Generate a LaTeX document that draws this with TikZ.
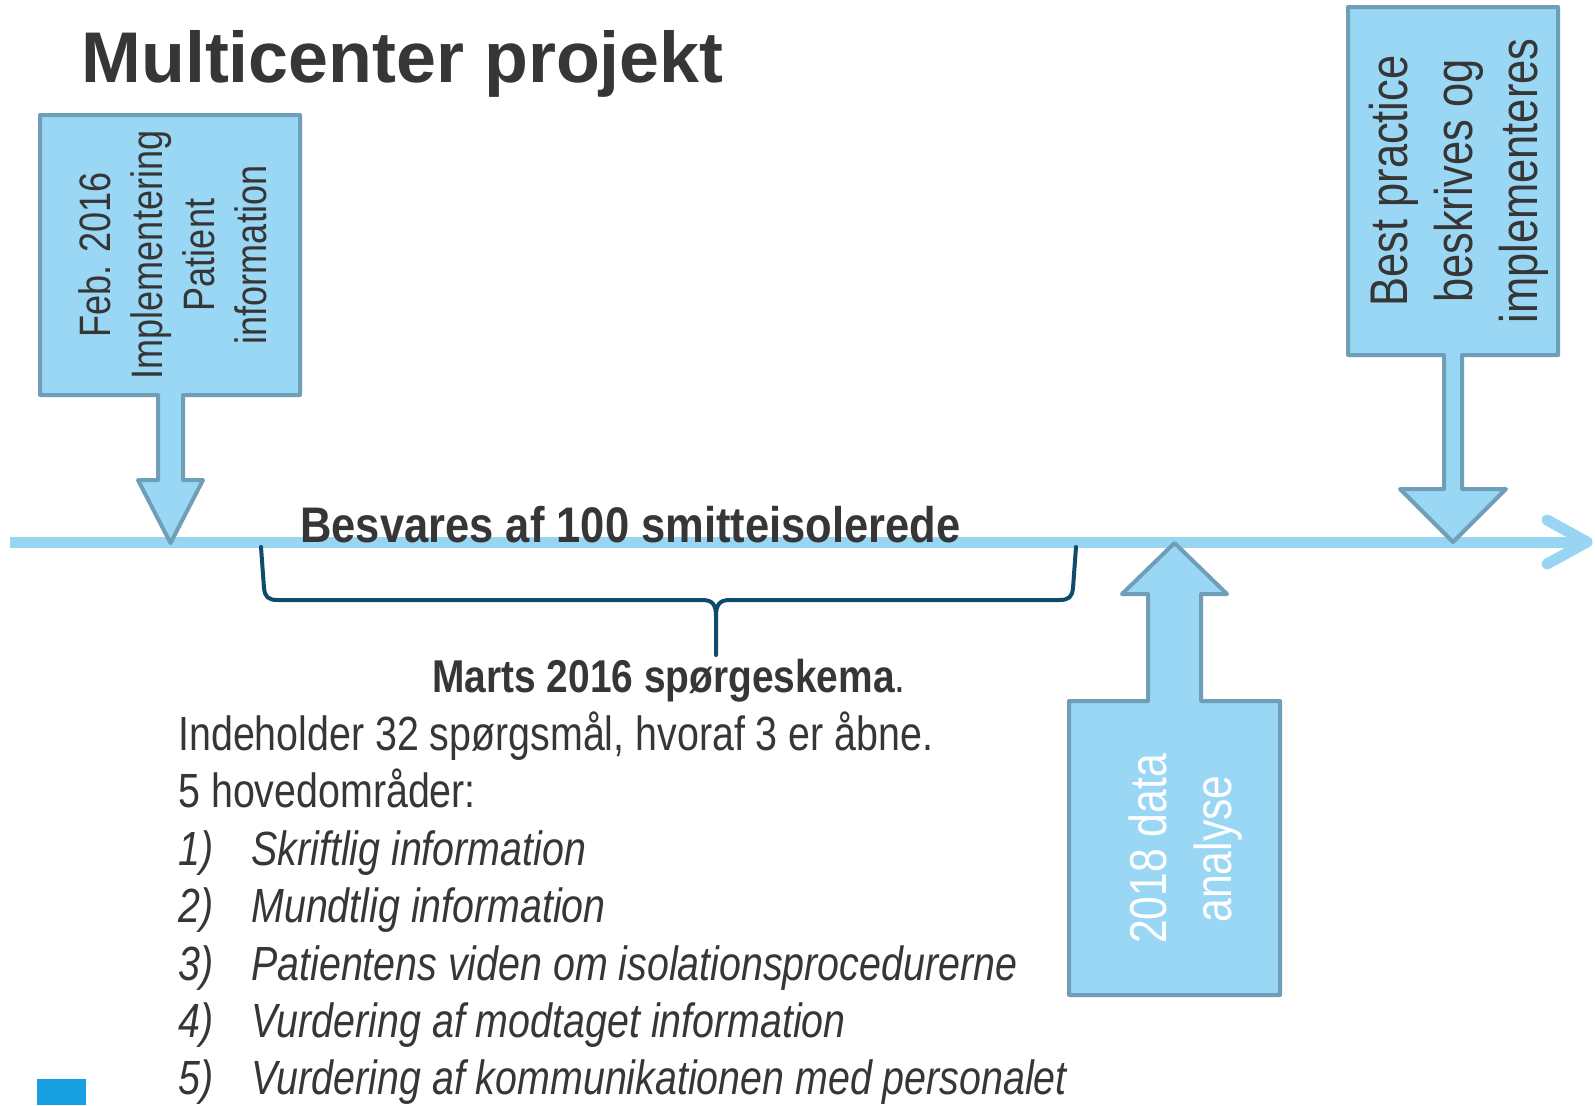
\documentclass[tikz,border=0pt]{standalone}
\usepackage{fontspec}
\setmainfont{Liberation Sans}
\newfontfamily\narrowfont[FakeStretch=0.82]{Liberation Sans}
\newfontfamily\semifont[FakeStretch=0.87]{Liberation Sans}
\newfontfamily\martsfont[FakeStretch=0.845]{Liberation Sans}
\definecolor{boxfill}{HTML}{9AD7F5}
\definecolor{boxline}{HTML}{6F9FB8}
\definecolor{tl}{HTML}{97D5F3}
\definecolor{bracec}{HTML}{0F4C6C}
\definecolor{txt}{HTML}{363636}
\definecolor{sq}{HTML}{19A0E3}
\begin{document}
\begin{tikzpicture}[x=0.5pt,y=-0.5pt,
  timeline/.style={draw=tl, line width=5.5pt},
  callout/.style={draw=boxline, fill=boxfill, line width=2pt, line join=round},
  boxtext/.style={rotate=90, align=center, inner sep=0pt, text=txt},
  bodytext/.style={anchor=base west, inner sep=0pt, text=txt, font=\narrowfont\fontsize{24pt}{28pt}\selectfont},
  listnum/.style={anchor=base west, inner sep=0pt, text=txt, font=\narrowfont\itshape\fontsize{24pt}{28pt}\selectfont},
  bracepath/.style={draw=bracec, line width=2pt, line join=round, line cap=round}]
\useasboundingbox (0,0) rectangle (1595,1105);
\fill[white] (0,0) rectangle (1595,1105);

% timeline
\coordinate (tlstart) at (10,542);
\coordinate (tlend) at (1587,542);
\coordinate (chevtop) at (1547,520);
\coordinate (chevbot) at (1547,564);
\draw[timeline] (tlstart) -- (tlend);
\draw[timeline, line cap=round, line join=round] (chevtop) -- (tlend) -- (chevbot);

% brace
\coordinate (brl) at (261,547);
\coordinate (brr) at (1076,547);
\coordinate (brtip) at (716,655);
\draw[bracepath] (brl) -- (264,588) .. controls (265,597) and (268,600) .. (278,600)
  -- (702,600) .. controls (712,600) and (716,604) .. (716,616) -- (brtip);
\draw[bracepath] (brr) -- (1073,588) .. controls (1072,597) and (1069,600) .. (1059,600)
  -- (730,600) .. controls (720,600) and (716,604) .. (716,616);

% callouts
\draw[callout] (40,115) -- (300,115) -- (300,395) -- (183,395) -- (183,480) -- (203,480)
  -- (170.5,543) -- (138,480) -- (158,480) -- (158,395) -- (40,395) -- cycle;
\draw[callout] (1348,7) -- (1558,7) -- (1558,355) -- (1462,355) -- (1462,489) -- (1506,489)
  -- (1453,542) -- (1400,489) -- (1444,489) -- (1444,355) -- (1348,355) -- cycle;
\draw[callout] (1069,995) -- (1069,701) -- (1148,701) -- (1148,594) -- (1122,594)
  -- (1174.5,543) -- (1227,594) -- (1201,594) -- (1201,701) -- (1280,701) -- (1280,995) -- cycle;

\node[boxtext, font=\narrowfont\fontsize{22pt}{26pt}\selectfont] (lefttext) at (173,255)
  {Feb. 2016\\Implementering\\Patient\\information};
\node[boxtext, font=\narrowfont\fontsize{26.5pt}{32.5pt}\selectfont] (righttext) at (1459,181)
  {Best practice\\beskrives og\\implementeres};
\node[boxtext, text=white, font=\narrowfont\fontsize{26pt}{32.5pt}\selectfont] (bottomtext) at (1186,849)
  {2018 data\\analyse};

% title
\node[anchor=base west, inner sep=0pt, text=txt, font=\fontsize{35.9pt}{40pt}\selectfont\bfseries] (title) at (81,82) {Multicenter projekt};

% besvares
\node[anchor=base west, inner sep=0pt, text=txt, font=\semifont\bfseries\fontsize{25pt}{28pt}\selectfont] (besvar) at (300,542) {Besvares af 100 smitteisolerede};

% body
\node[anchor=base west, inner sep=0pt, text=txt, font=\martsfont\fontsize{23pt}{26pt}\selectfont] (marts) at (432,692) {\textbf{Marts 2016 spørgeskema}.};
\node[bodytext] (l1) at (178,750) {Indeholder 32 spørgsmål, hvoraf 3 er åbne.};
\node[bodytext] (l2) at (178,807) {5 hovedområder:};
\node[listnum] (n1) at (178,865) {1)};
\node[listnum] (t1) at (251,865) {Skriftlig information};
\node[listnum] (n2) at (178,922) {2)};
\node[listnum] (t2) at (251,922) {Mundtlig information};
\node[listnum] (n3) at (178,980) {3)};
\node[listnum] (t3) at (251,980) {Patientens viden om isolationsprocedurerne};
\node[listnum] (n4) at (178,1037) {4)};
\node[listnum] (t4) at (251,1037) {Vurdering af modtaget information};
\node[listnum] (n5) at (178,1094) {5)};
\node[listnum] (t5) at (251,1094) {Vurdering af kommunikationen med personalet};

% small square
\fill[sq] (37,1079) rectangle (86,1105);
\end{tikzpicture}
\end{document}
